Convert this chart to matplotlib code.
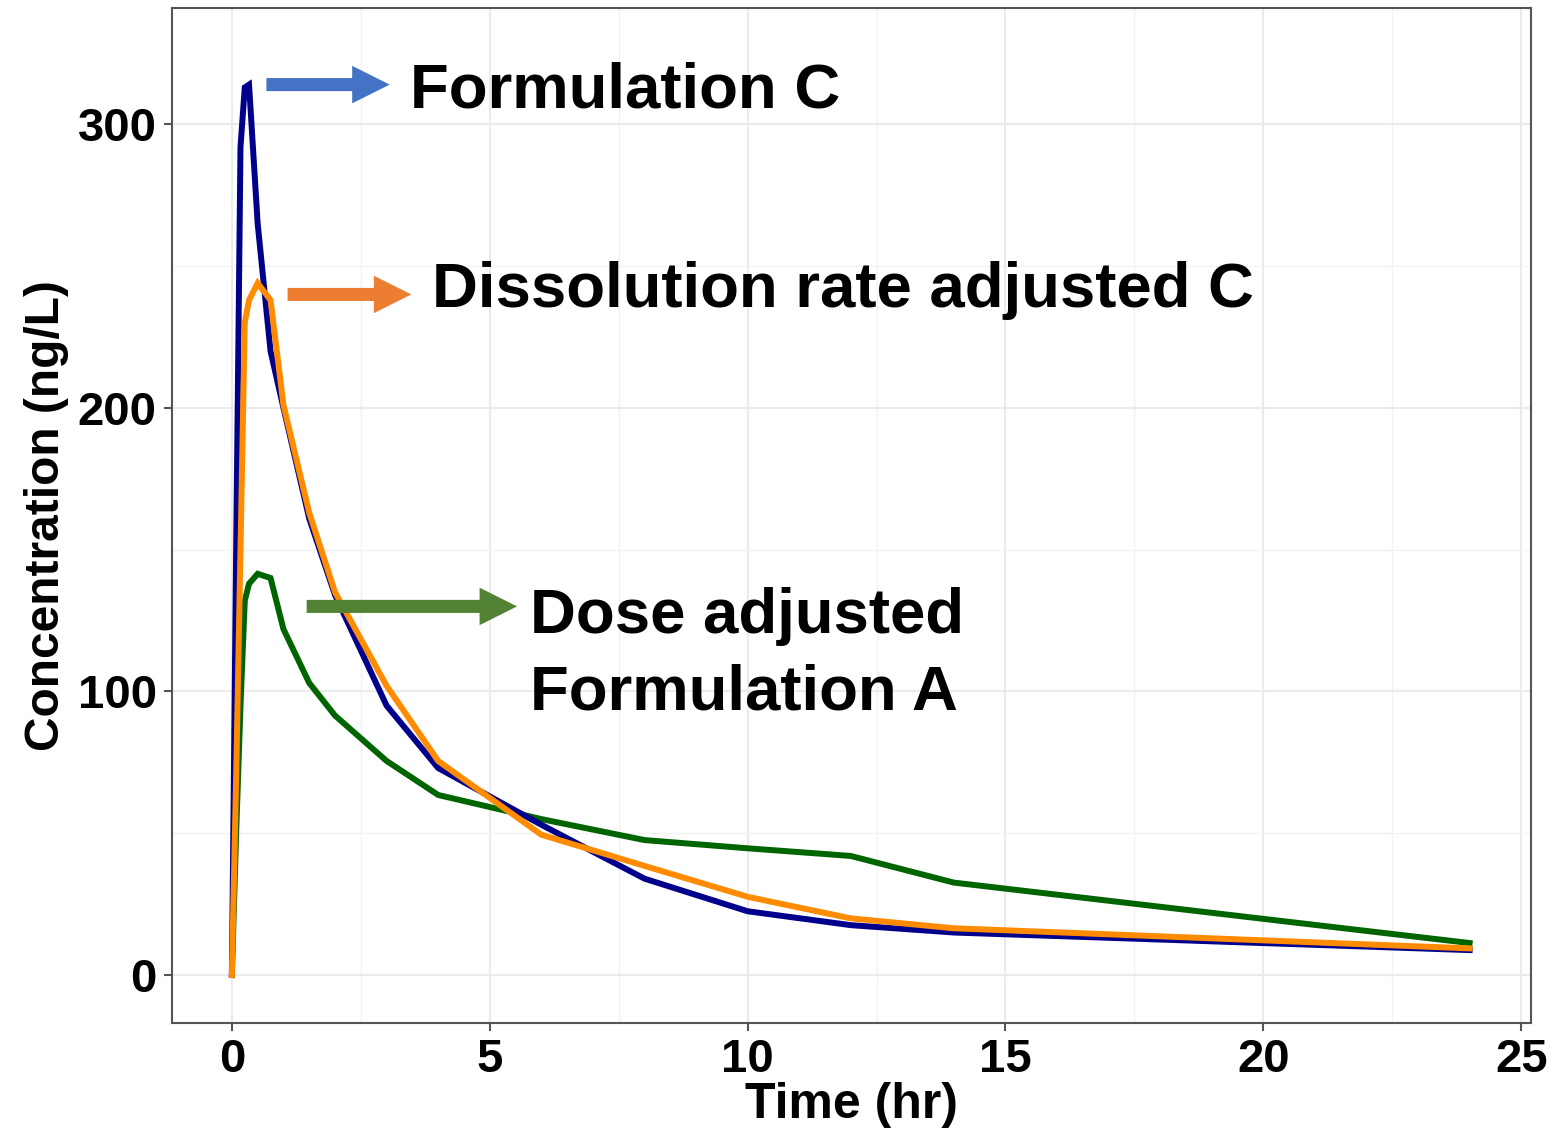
import matplotlib
matplotlib.use("Agg")
from matplotlib import pyplot as plt
import numpy as np

# time points (hr)
time = [0, 0.083, 0.167, 0.25, 0.333, 0.5, 0.75, 1, 1.5, 2, 3, 4, 6, 8, 10, 12, 14, 24]

# concentrations (ng/L)
form_c = [0, 150, 292, 313, 314, 265, 220, 200, 161, 134, 95, 73, 53, 34, 22.5, 17.6, 15, 8.8]
diss_c = [0, 70, 150, 230, 238, 244, 238, 201, 163, 135, 102, 75.5, 49.5, 38.5, 27.6, 20, 16.5, 9.4]
dose_a = [0, 50, 95, 132, 138, 141.5, 140, 122, 103, 91.5, 75.5, 63.5, 55, 47.6, 44.7, 42, 32.6, 11.3]

labels = ["Formulation C", "Dissolution rate adjusted C", "Dose adjusted\nFormulation A"]

plt.rcParams['font.family'] = ['Liberation Sans', 'DejaVu Sans']
plt.rcParams['font.weight'] = 'bold'

fig = plt.figure(figsize=(15.57, 11.30), dpi=100)
ax = fig.add_axes([0.1105, 0.0947, 0.9833 - 0.1105, 0.9929 - 0.0947])

lw = 4.3
ax.plot(time, dose_a, color='#006400', lw=lw, solid_joinstyle='miter', zorder=3)
ax.plot(time, form_c, color='#00008B', lw=lw, solid_joinstyle='miter', zorder=4)
ax.plot(time, diss_c, color='#FF8C00', lw=lw, solid_joinstyle='miter', zorder=5)

ax.set_xlim(-1.16, 25.19)
ax.set_ylim(-16.9, 341)
ax.set_xticks([0, 5, 10, 15, 20, 25])
ax.set_xticks([2.5, 7.5, 12.5, 17.5, 22.5], minor=True)
ax.set_yticks([0, 100, 200, 300])
ax.set_yticks([50, 150, 250], minor=True)
ax.grid(which='major', color='#EBEBEB', lw=1.5, zorder=0)
ax.grid(which='minor', color='#F2F2F2', lw=1.0, zorder=0)
ax.set_axisbelow(True)
for s in ax.spines.values():
    s.set_color('#555555')
    s.set_linewidth(1.5)
ax.tick_params(which='major', length=6, width=1.5, color='#555555', labelsize=34, pad=5)
ax.tick_params(which='minor', length=0)
for lab in ax.get_xticklabels() + ax.get_yticklabels():
    lab.set_fontweight('bold')

ax.set_xlabel('Time (hr)', fontsize=36, fontweight='bold', labelpad=0)
ax.set_ylabel('Concentration (ng/L)', fontsize=34.5, fontweight='bold', labelpad=6)

# arrows + labels
arrows = [
    ((0.67, 314), (3.06, 314), '#4472C4'),
    ((1.08, 240), (3.48, 240), '#ED7D31'),
    ((1.45, 130), (5.53, 130), '#548235'),
]
for (x0, y0), (x1, y1), col in arrows:
    ax.annotate('', xy=(x1, y1), xytext=(x0, y0),
                arrowprops=dict(arrowstyle='simple,head_length=27,head_width=27,tail_width=9.4',
                                color=col, mutation_scale=1, shrinkA=0, shrinkB=0, lw=0),
                zorder=6)

fs = 45.7
ax.text(3.45, 305.9, labels[0], fontsize=fs, fontweight='bold', va='baseline', ha='left', zorder=7)
ax.text(3.88, 235.7, labels[1], fontsize=fs, fontweight='bold', va='baseline', ha='left', zorder=7)
l1, l2 = labels[2].split('\n')
ax.text(5.78, 120.6, l1, fontsize=fs, fontweight='bold', va='baseline', ha='left', zorder=7)
ax.text(5.78, 93.7, l2, fontsize=fs, fontweight='bold', va='baseline', ha='left', zorder=7)

plt.savefig('out.png', dpi=100)
